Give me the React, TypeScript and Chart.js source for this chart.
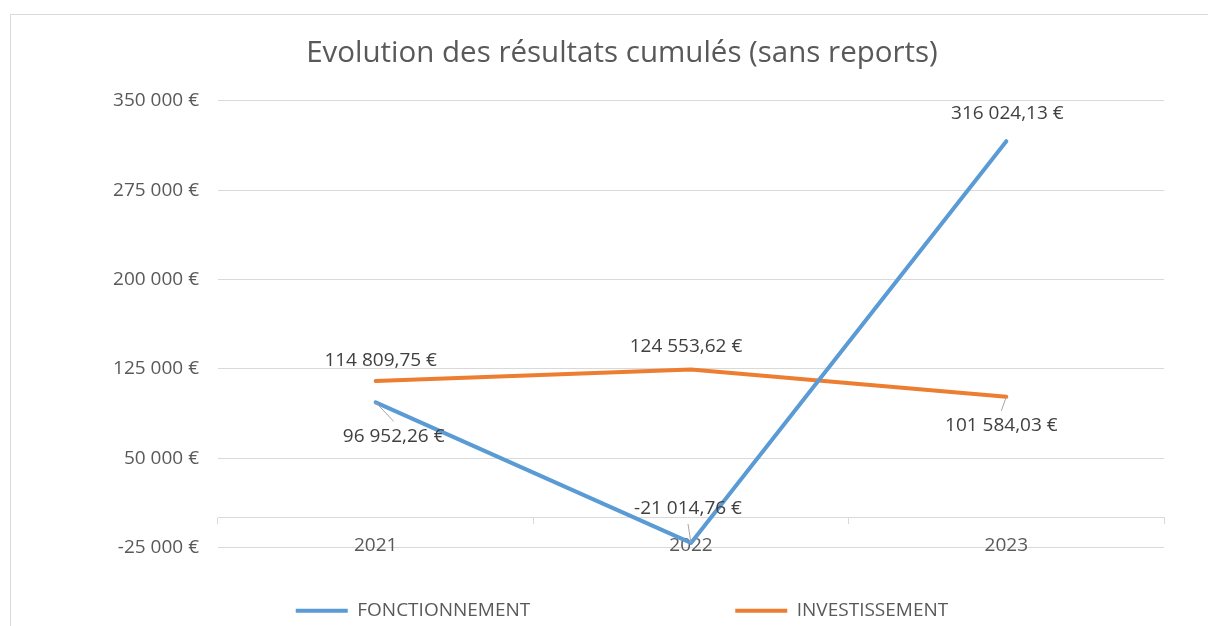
import React, { useEffect, useRef } from "react";
import { Chart, registerables } from "chart.js";

Chart.register(...registerables);

const categories = ["2021", "2022", "2023"];
const fonctionnement = [96952.26, -21014.76, 316024.13];
const investissement = [114809.75, 124553.62, 101584.03];
const seriesNames = ["FONCTIONNEMENT", "INVESTISSEMENT"];
const seriesColors = ["#5B9BD5", "#ED7D31"];
const yMin = -25000;
const yMax = 350000;
const yStep = 75000;
const chartTitle = "Evolution des résultats cumulés (sans reports)";

// label placement relative to each point (style, not data)
const labelOffsets = [
  [
    { dx: 18, dy: 34, leader: true },
    { dx: -3, dy: -34, leader: true },
    { dx: 1, dy: -28, leader: false },
  ],
  [
    { dx: 5, dy: -20, leader: false },
    { dx: -5, dy: -23, leader: false },
    { dx: -5, dy: 29, leader: true },
  ],
];

const FONT = "'Open Sans', 'Liberation Sans', sans-serif";
const TEXT = "#595959";
const GRID = "#D9D9D9";

function fmtEuro(v: number, decimals: number): string {
  const neg = v < 0;
  const [i, d] = Math.abs(v).toFixed(decimals).split(".");
  const g = i.replace(/\B(?=(\d{3})+(?!\d))/g, " ");
  return (neg ? "-" : "") + g + (d ? "," + d : "") + " €";
}

const pointLabels = {
  id: "pointLabels",
  afterDatasetsDraw(chart: any) {
    const ctx = chart.ctx;
    ctx.save();
    ctx.font = `19px ${FONT}`;
    ctx.textAlign = "center";
    ctx.textBaseline = "middle";
    chart.data.datasets.forEach((ds: any, di: number) => {
      const meta = chart.getDatasetMeta(di);
      meta.data.forEach((el: any, i: number) => {
        const o = labelOffsets[di][i];
        const tx = el.x + o.dx;
        const ty = el.y + o.dy;
        if (o.leader) {
          ctx.strokeStyle = "#A6A6A6";
          ctx.lineWidth = 1;
          ctx.beginPath();
          ctx.moveTo(el.x, el.y);
          ctx.lineTo(tx, ty - Math.sign(o.dy) * 15);
          ctx.stroke();
        }
        ctx.fillStyle = "#404040";
        ctx.fillText(fmtEuro(ds.data[i], 2), tx, ty);
      });
    });
    ctx.restore();
  },
};

export default function App() {
  const ref = useRef<HTMLCanvasElement | null>(null);

  useEffect(() => {
    if (!ref.current) return;
    const chart = new Chart(ref.current, {
      type: "line",
      data: {
        labels: categories,
        datasets: [fonctionnement, investissement].map((vals, k) => ({
          label: seriesNames[k],
          data: vals,
          borderColor: seriesColors[k],
          backgroundColor: seriesColors[k],
          borderWidth: 4,
          borderCapStyle: "round",
          borderJoinStyle: "round",
          pointRadius: 0,
          pointHoverRadius: 0,
          tension: 0,
          fill: false,
        })),
      },
      options: {
        responsive: false,
        animation: false,
        layout: { padding: { left: 80, right: 44, top: 0, bottom: 0 } },
        plugins: {
          tooltip: { enabled: false },
          title: {
            display: true,
            text: chartTitle,
            color: TEXT,
            font: { family: FONT, size: 29.5, weight: "normal", lineHeight: 1.2 },
            padding: { top: 35.7, bottom: 29.6 },
          },
          legend: {
            display: true,
            position: "bottom",
            maxHeight: 78.3,
            title: {
              display: true,
              text: "",
              font: { size: 12, lineHeight: 1.2 },
              padding: { top: -165.8, bottom: 0 },
            },
            labels: {
              usePointStyle: true,
              pointStyle: "line",
              pointStyleWidth: 52,
              color: TEXT,
              padding: 205,
              font: { family: FONT, size: 19 },
            },
          },
        },
        scales: {
          x: {
            type: "category",
            position: { y: 0 },
            offset: true,
            grid: {
              display: true,
              drawOnChartArea: false,
              drawTicks: true,
              tickLength: 6,
              offset: true,
              color: GRID,
            },
            border: { display: true, color: GRID, width: 1 },
            ticks: {
              color: TEXT,
              padding: 10,
              maxRotation: 0,
              font: { family: FONT, size: 19 },
            },
          },
          y: {
            type: "linear",
            min: yMin,
            max: yMax,
            afterFit: (s: any) => {
              s.width = 138;
            },
            grid: { color: GRID, lineWidth: 1, drawTicks: false },
            border: { display: false },
            ticks: {
              stepSize: yStep,
              color: TEXT,
              padding: 19,
              font: { family: FONT, size: 19 },
              callback: (v: any) => fmtEuro(Number(v), 0),
            },
          },
        },
      },
      plugins: [pointLabels],
    } as any);
    return () => chart.destroy();
  }, []);

  return (
    <div
      style={{
        position: "fixed",
        left: 0,
        top: 0,
        width: 1208,
        height: 626,
        overflow: "hidden",
        background: "#ffffff",
      }}
    >
      <div
        style={{
          position: "absolute",
          left: 10,
          top: 14,
          width: 1400,
          height: 900,
          border: `1px solid ${GRID}`,
        }}
      />
      <canvas
        ref={ref}
        width={1208}
        height={626}
        style={{ position: "absolute", left: 0, top: 0, width: 1208, height: 626 }}
      />
    </div>
  );
}
